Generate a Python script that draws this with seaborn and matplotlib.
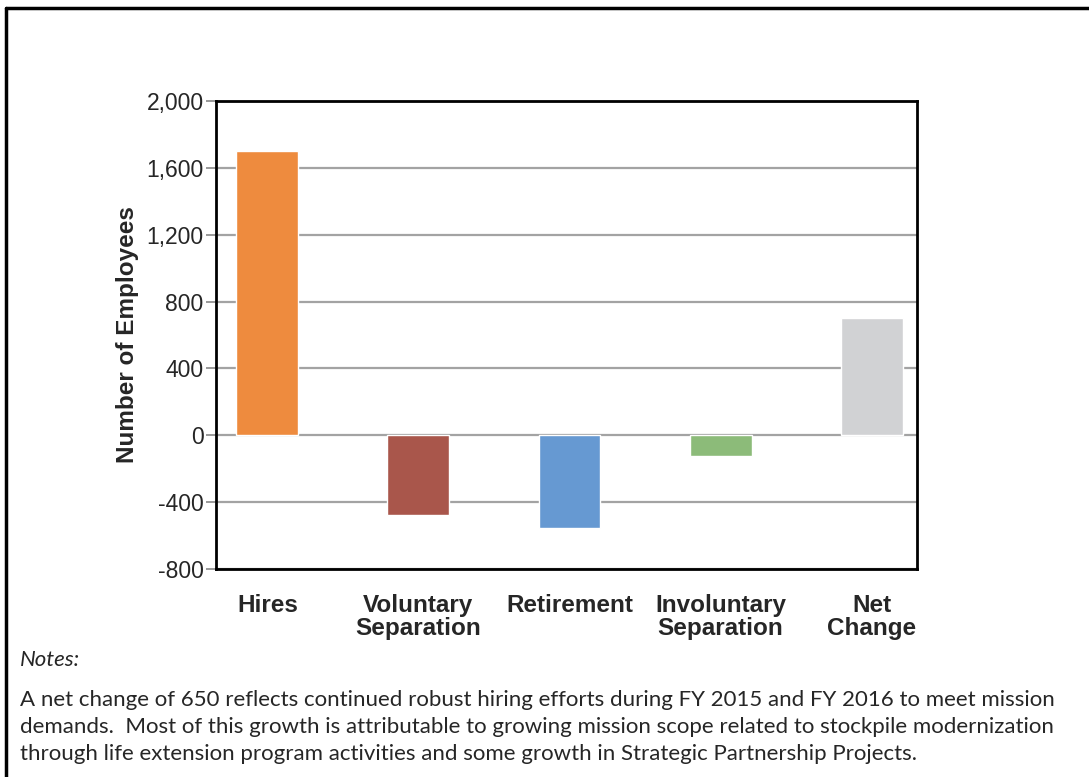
import matplotlib
matplotlib.use('Agg')
import matplotlib.pyplot as plt
import seaborn as sns
import pandas as pd

# Data
categories = ['Hires', 'Voluntary\nSeparation', 'Retirement', 'Involuntary\nSeparation', 'Net\nChange']
employees = [1700, -475, -555, -125, 700]
bar_colors = ['#EE8B3E', '#A9564B', '#6699D2', '#8CBB79', '#D1D2D4']
y_ticks = [-800, -400, 0, 400, 800, 1200, 1600, 2000]

notes_text = ("A net change of 650 reflects continued robust hiring efforts during FY 2015 and FY 2016 to meet mission\n"
              "demands.  Most of this growth is attributable to growing mission scope related to stockpile modernization\n"
              "through life extension program activities and some growth in Strategic Partnership Projects.")

df = pd.DataFrame({'Category': categories, 'Employees': employees})

sns.set_style('white')
plt.rcParams['font.family'] = ['Liberation Sans', 'DejaVu Sans']

fig = plt.figure(figsize=(10.89, 7.77), dpi=100)
ax = fig.add_axes([216 / 1089, 1 - 569 / 777, 701 / 1089, 468 / 777])

sns.barplot(data=df, x='Category', y='Employees', hue='Category', palette=bar_colors,
            legend=False, width=0.41, saturation=1, ax=ax, zorder=3)

ax.set_ylim(-800, 2000)
ax.set_xlim(-0.34, 4.3)
ax.set_yticks(y_ticks)
ax.set_yticklabels([f'{v:,}' for v in y_ticks], fontsize=16.5)
ax.yaxis.grid(True, color='#A3A3A3', linewidth=1.6, zorder=0)
ax.set_axisbelow(True)

ax.tick_params(axis='y', which='major', left=True, length=7, width=1.2, color='#888888', pad=2)
ax.tick_params(axis='x', length=0, pad=18)
for lbl in ax.get_xticklabels():
    lbl.set_fontweight('bold')
    lbl.set_fontsize(17.5)
    lbl.set_linespacing(1.0)

for s in ax.spines.values():
    s.set_visible(True)
    s.set_color('black')
    s.set_linewidth(2)

ax.set_xlabel('')
ax.set_ylabel('Number of Employees', fontsize=17.5, fontweight='bold', labelpad=5)

# outer box (left and top edges visible in the crop)
fig.add_artist(plt.Line2D([6 / 1089, 6 / 1089], [0, 1 - 8 / 777], color='black', linewidth=2.5))
fig.add_artist(plt.Line2D([6 / 1089, 1], [1 - 8 / 777, 1 - 8 / 777], color='black', linewidth=2.5))

fig.text(20 / 1089, 1 - 660 / 777, 'Notes:', fontsize=16, style='italic',
         family=['Lato', 'DejaVu Sans'], va='center')
fig.text(20 / 1089, 1 - 727 / 777, notes_text, fontsize=16, family=['Lato', 'DejaVu Sans'],
         va='center', linespacing=1.42)

fig.savefig('out.png', dpi=100)
